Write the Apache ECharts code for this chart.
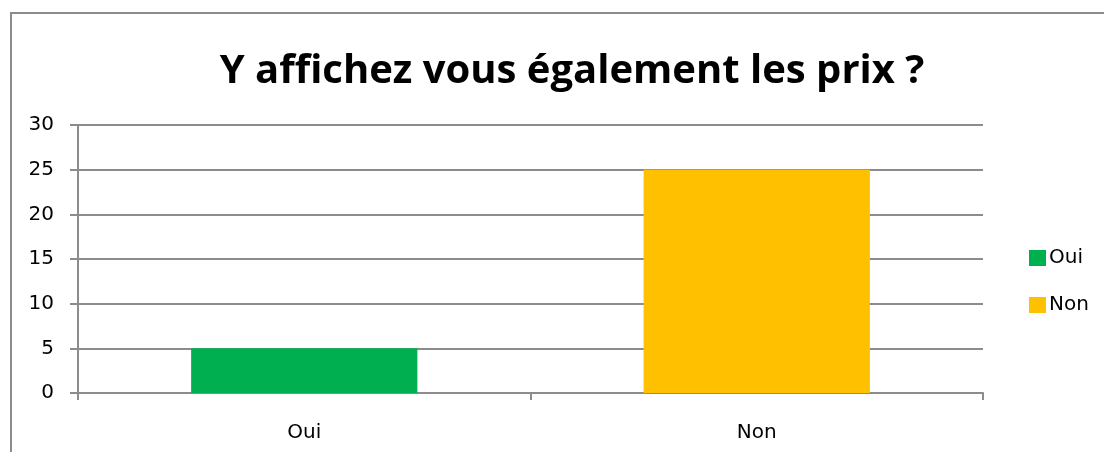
<!DOCTYPE html>
<html>
<head>
<meta charset="utf-8">
<script src="https://cdn.jsdelivr.net/npm/echarts@6/dist/echarts.min.js"></script>
<style>
  html, body { margin: 0; padding: 0; background: #fff; }
  #chart { width: 1104px; height: 452px; }
</style>
</head>
<body>
<div id="chart"></div>
<script>
// Survey answers
var categories = ['Oui', 'Non'];
var oui_values = [5, '-'];
var non_values = ['-', 25];
var y_ticks = [0, 5, 10, 15, 20, 25, 30];

var chart = echarts.init(document.getElementById('chart'), null, { renderer: 'canvas' });

var gray = '#8c8c8c';
var font = 'DejaVu Sans';

chart.setOption({
  animation: false,
  backgroundColor: '#fff',
  title: {
    text: 'Y affichez vous également les prix ?',
    left: 567,
    textAlign: 'center',
    top: 47,
    textStyle: { fontFamily: 'Open Sans', fontWeight: 'bold', fontSize: 40, color: '#000' }
  },
  graphic: [{
    type: 'rect',
    shape: { x: 11, y: 13, width: 1110, height: 460 },
    style: { fill: 'none', stroke: gray, lineWidth: 2 },
    silent: true
  }],
  legend: {
    orient: 'vertical',
    left: 1024,
    top: 243,
    itemWidth: 17,
    itemHeight: 16,
    itemGap: 27,
    itemStyle: { borderWidth: 0 },
    icon: 'rect',
    textStyle: { fontFamily: font, fontSize: 20, color: '#000', padding: [0, 0, 0, -2] },
    data: categories
  },
  grid: { left: 78, right: 121, top: 125, bottom: 59, containLabel: false },
  xAxis: {
    type: 'category',
    data: categories,
    axisLine: { lineStyle: { color: gray, width: 2 } },
    axisTick: { show: true, length: 7, alignWithLabel: false, lineStyle: { color: gray, width: 2 } },
    axisLabel: { fontFamily: font, fontSize: 20, color: '#000', margin: 30 }
  },
  yAxis: {
    type: 'value',
    min: y_ticks[0],
    max: y_ticks[y_ticks.length - 1],
    interval: 5,
    axisLine: { show: true, lineStyle: { color: gray, width: 2 } },
    axisTick: { show: true, inside: false, length: 8, lineStyle: { color: gray, width: 2 } },
    splitLine: { lineStyle: { color: gray, width: 2 } },
    axisLabel: { fontFamily: font, fontSize: 20, color: '#000', margin: 24 }
  },
  series: [
    {
      name: 'Oui', type: 'bar', stack: 'total', barWidth: '50%',
      data: oui_values, itemStyle: { color: '#00B050' }
    },
    {
      name: 'Non', type: 'bar', stack: 'total', barWidth: '50%',
      data: non_values, itemStyle: { color: '#FFC000' }
    }
  ]
});
</script>
</body>
</html>
